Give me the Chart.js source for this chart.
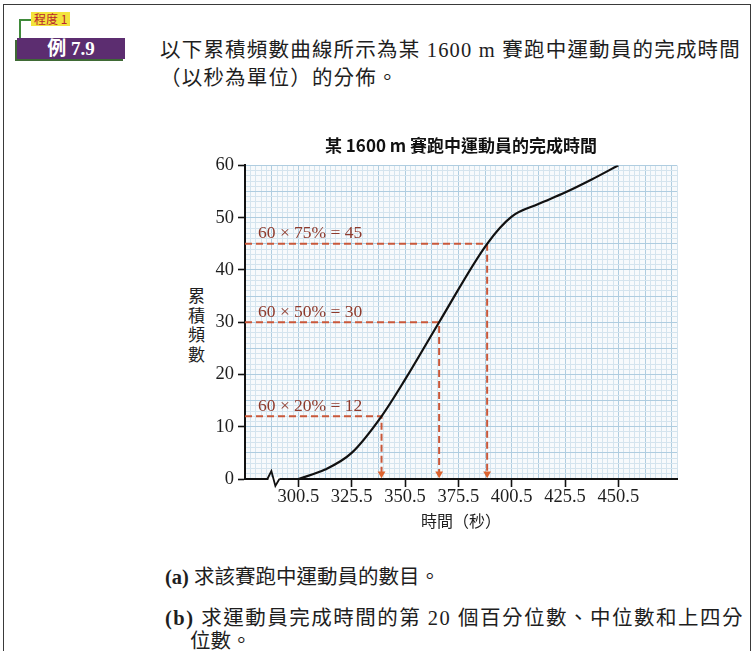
<!DOCTYPE html>
<html>
<head>
<meta charset="utf-8">
<script src="https://cdn.jsdelivr.net/npm/chart.js@4.4.1/dist/chart.umd.min.js"></script>
<style>
  body { margin: 0; background: #fff; }
  #page { position: relative; width: 753px; height: 651px; overflow: hidden;
          font-family: "Liberation Serif", "Noto Sans CJK TC", serif; color: #1e1e1e; }
  #chartBox { position: absolute; left: 0; top: 0; }
  #frame { position: absolute; left: 3px; top: 4px; width: 746px; height: 700px;
           border: 1.5px solid #3a3a3a; }
  #level { position: absolute; left: 31px; top: 12px; height: 14px; padding: 0 3px;
           background: #f3e43c; color: #b8262f; font: 12px "Noto Sans CJK TC"; line-height: 14px; }
  #levelLine { position: absolute; left: 19px; top: 19px; width: 12px; height: 21px;
               border-left: 2px solid #3f8a3a; border-top: 2px solid #3f8a3a; }
  #badge { position: absolute; left: 17px; top: 38px; width: 108px; height: 21px;
           background: #5c2d70; color: #fff; font: bold 19px "Liberation Serif", "Noto Sans CJK TC";
           line-height: 21px; text-align: center; box-shadow: -2px 2px 0 #3f6a35; }
  .para { position: absolute; left: 160px; font-size: 20.5px; line-height: 24px; letter-spacing: 1.2px; white-space: nowrap; }
  .q { position: absolute; left: 165px; font-size: 20.5px; line-height: 24px; white-space: nowrap; }
  #ylab { position: absolute; left: 188px; top: 285px; font: 17px "Noto Sans CJK TC"; line-height: 19.5px; text-align: center; }
</style>
</head>
<body>
<div id="page">
  <div id="frame"></div>
  <div id="levelLine"></div>
  <div id="level">程度 1</div>
  <div id="badge">例 7.9</div>
  <div class="para" style="top:38px">以下累積頻數曲線所示為某 1600 m 賽跑中運動員的完成時間</div>
  <div class="para" style="top:66px">（以秒為單位）的分佈。</div>
  <div id="ylab">累<br>積<br>頻<br>數</div>
  <div class="q" style="top:565px"><b>(a)</b> 求該賽跑中運動員的數目。</div>
  <div class="q" style="top:606px; letter-spacing:1.5px"><b>(b)</b> 求運動員完成時間的第 20 個百分位數、中位數和上四分</div>
  <div class="q" style="top:629px; left:190px">位數。</div>
  <div id="chartBox"><canvas id="chart" width="753" height="651"></canvas></div>
</div>
<script>
// axis ranges (the x axis is broken between 275.5 and 300.5)
const xMin = 275.5, xMax = 478;
const yMin = 0, yMax = 60;
const xTickLabels = [300.5, 325.5, 350.5, 375.5, 400.5, 425.5, 450.5];
const yTickLabels = [0, 10, 20, 30, 40, 50, 60];

// cumulative frequency curve
const curveTimes = [300.5, 313, 325.5, 339.5, 350.5, 366.5, 389, 400.5, 413, 425.5, 438, 450.5];
const curveCumFreq = [0, 1.8, 5, 12, 19, 30, 45, 50.2, 52.6, 54.8, 57.3, 60];

// percentile guide lines
const guideLabels = ["60 × 20% = 12", "60 × 50% = 30", "60 × 75% = 45"];
const guideFreqs = [12, 30, 45];
const guideTimes = [339.5, 366.5, 389];
const arrowFreq = 1; // arrow heads sit just above the time axis

const paper = "#f7fafc", minorGrid = "#d4e4ee", majorGrid = "#afcde0";
const guideColor = "#c9583a", guideText = "#8e3a2c";

let datasets = [{
  data: curveTimes.map((t, i) => ({ x: t, y: curveCumFreq[i] })),
  borderColor: "#111",
  borderWidth: 2.2,
  pointRadius: 0,
  cubicInterpolationMode: "monotone",
  fill: false
}];
guideFreqs.forEach((f, i) => {
  datasets.push({
    data: [{ x: xMin, y: f }, { x: guideTimes[i], y: f }, { x: guideTimes[i], y: arrowFreq }],
    borderColor: guideColor,
    borderWidth: 2,
    borderDash: [7, 4],
    tension: 0,
    pointRadius: [0, 0, 4.5],
    pointStyle: "triangle",
    rotation: 180,
    pointBackgroundColor: "#dc632f",
    pointBorderWidth: 0,
    fill: false
  });
});

// graph paper background, axis break and guide labels
const paperPlugin = {
  id: "paper",
  beforeDraw(chart) {
    const a = chart.chartArea, c = chart.ctx;
    c.save();
    c.fillStyle = paper;
    c.fillRect(a.left, a.top, a.right - a.left, a.bottom - a.top);
    c.restore();
  },
  afterDatasetsDraw(chart) {
    const c = chart.ctx, xs = chart.scales.x, ys = chart.scales.y;
    c.save();
    c.font = "17.5px 'Liberation Serif'";
    c.fillStyle = guideText;
    c.textBaseline = "middle";
    guideLabels.forEach((t, i) => {
      c.fillText(t, xs.getPixelForValue(xMin) + 13, ys.getPixelForValue(guideFreqs[i]) - 10);
    });
    c.restore();
  },
  afterDraw(chart) {
    const c = chart.ctx, xs = chart.scales.x;
    const y = chart.chartArea.bottom, cx = xs.getPixelForValue(288.8);
    c.save();
    c.fillStyle = "#fff";
    c.fillRect(cx - 5, y - 2, 11, 5);
    c.strokeStyle = "#111";
    c.lineWidth = 1.8;
    c.beginPath();
    c.moveTo(cx - 6, y);
    c.lineTo(cx - 2, y - 8);
    c.lineTo(cx + 2, y + 7);
    c.lineTo(cx + 6, y);
    c.stroke();
    c.restore();
  }
};

new Chart(document.getElementById("chart"), {
  type: "line",
  data: { datasets: datasets },
  plugins: [paperPlugin],
  options: {
    responsive: false,
    animation: false,
    layout: { padding: { left: 200, right: 76, top: 125, bottom: 112 } },
    plugins: {
      legend: { display: false },
      tooltip: { enabled: false },
      title: {
        display: true,
        fullSize: false,
        text: "某 1600 m 賽跑中運動員的完成時間",
        color: "#111",
        font: { family: "'Noto Sans CJK TC'", size: 17, weight: "bold" },
        padding: { top: 10, bottom: 10 }
      }
    },
    scales: {
      x: {
        type: "linear",
        min: xMin,
        max: xMax,
        afterBuildTicks(scale) {
          const t = [];
          for (let k = 0; xMin + k * 2.5 <= xMax; k++) t.push({ value: xMin + k * 2.5 });
          scale.ticks = t;
        },
        afterFit(scale) { scale.height = 60; },
        border: { color: "#111", width: 2 },
        grid: {
          color: (ctx) => ctx.tick && ((ctx.tick.value - xMin) / 12.5) % 1 === 0 ? majorGrid : minorGrid,
          lineWidth: 1,
          tickLength: 8,
          tickWidth: 1.6,
          tickColor: (ctx) => ctx.tick && xTickLabels.includes(ctx.tick.value) ? "#111" : "rgba(0,0,0,0)"
        },
        ticks: {
          autoSkip: false,
          maxRotation: 0,
          minRotation: 0,
          padding: -1,
          color: "#1e1e1e",
          font: { family: "'Liberation Serif'", size: 18.5 },
          callback: (v) => xTickLabels.includes(v) ? v.toFixed(1) : ""
        },
        title: {
          display: true,
          text: "時間（秒）",
          color: "#1e1e1e",
          font: { family: "'Noto Sans CJK TC'", size: 16 },
          padding: { top: 0, bottom: 8 }
        }
      },
      y: {
        min: yMin,
        max: yMax,
        afterBuildTicks(scale) {
          const t = [];
          for (let v = yMin; v <= yMax; v++) t.push({ value: v });
          scale.ticks = t;
        },
        afterFit(scale) { scale.width = 45; },
        border: { color: "#111", width: 2 },
        grid: {
          color: (ctx) => ctx.tick && ctx.tick.value % 5 === 0 ? majorGrid : minorGrid,
          lineWidth: 1,
          tickLength: 7,
          tickWidth: 1.6,
          tickColor: (ctx) => ctx.tick && yTickLabels.includes(ctx.tick.value) ? "#111" : "rgba(0,0,0,0)"
        },
        ticks: {
          autoSkip: false,
          padding: 4,
          color: "#1e1e1e",
          font: { family: "'Liberation Serif'", size: 18.5 },
          callback: (v) => yTickLabels.includes(v) ? String(v) : ""
        }
      }
    }
  }
});
</script>
</body>
</html>
